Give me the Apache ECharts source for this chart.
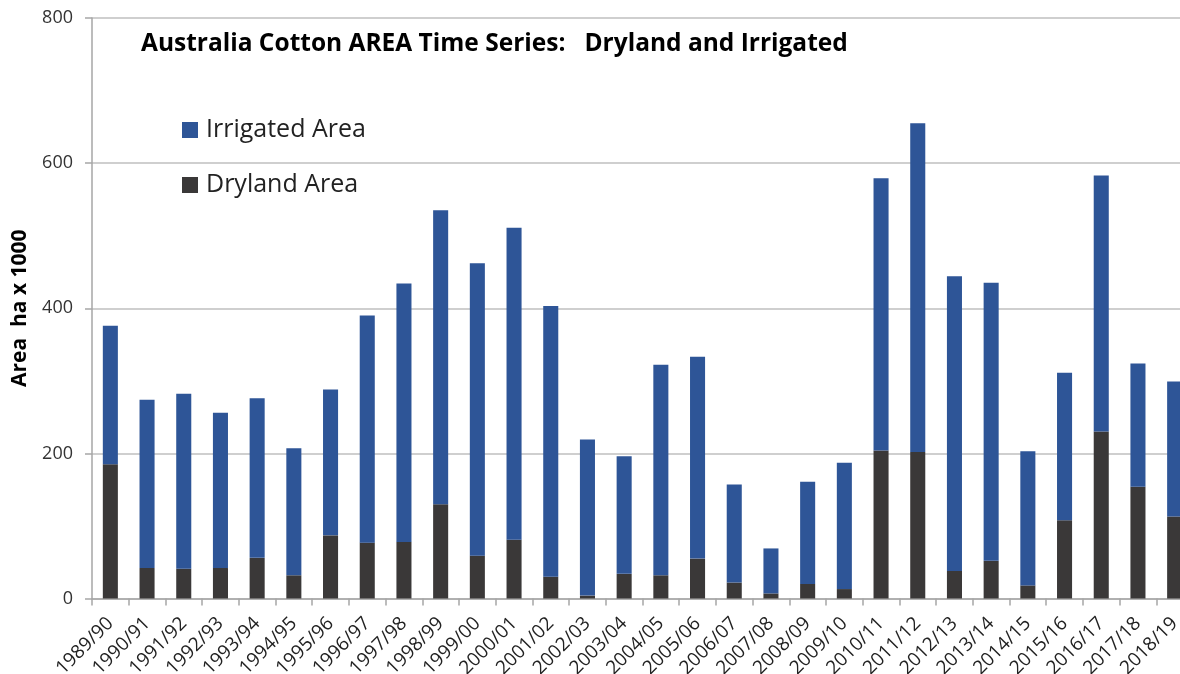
<!DOCTYPE html>
<html><head><meta charset="utf-8">
<script src="https://cdn.jsdelivr.net/npm/echarts@6/dist/echarts.min.js"></script>
<style>html,body{margin:0;padding:0;background:#fff}#c{width:1180px;height:674px}</style>
</head><body><div id="c"></div>
<script>
const categories = ["1989/90","1990/91","1991/92","1992/93","1993/94","1994/95","1995/96","1996/97","1997/98","1998/99","1999/00","2000/01","2001/02","2002/03","2003/04","2004/05","2005/06","2006/07","2007/08","2008/09","2009/10","2010/11","2011/12","2012/13","2013/14","2014/15","2015/16","2016/17","2017/18","2018/19"];
const dryland = [185,42,41,42,56,32,87,77,78,130,59,81,30,4,34,32,55,22,7,20,13,204,202,38,52,18,108,230,154,113];
const irrigated = [191,232,241,214,220,175,201,313,356,405,403,430,373,215,162,290,278,135,62,141,174,375,453,406,383,185,203,353,170,186];
const yTicks = [0,200,400,600,800];

const chart = echarts.init(document.getElementById('c'));
chart.setOption({
  animation:false,
  backgroundColor:'#fff',
  textStyle:{fontFamily:'Open Sans'},
  title:{text:'Australia Cotton AREA Time Series:   Dryland and Irrigated', left:141, top:32, padding:0,
    textStyle:{fontFamily:'Open Sans', fontWeight:'bold', fontSize:24.5, color:'#000'}},
  legend:{orient:'vertical', left:182, top:115, padding:0, itemWidth:16, itemHeight:16, itemGap:25,
    icon:'rect',
    data:['Irrigated Area','Dryland Area'],
    textStyle:{fontFamily:'Open Sans', fontSize:25, lineHeight:30, color:'#222', padding:[0,0,0,3]}},
  grid:{left:92, right:-13, top:18, bottom:75.5, containLabel:false, outerBoundsMode:'none'},
  xAxis:{type:'category', data:categories,
    axisLine:{lineStyle:{color:'#a6a6a6', width:1.5}},
    axisTick:{show:true, length:7, lineStyle:{color:'#a6a6a6', width:1.5}},
    axisLabel:{rotate:45, fontSize:19, color:'#222', margin:22, interval:0}},
  yAxis:{type:'value', min:0, max:800, interval:200,
    name:'Area  ha x 1000', nameLocation:'middle', nameGap:61,
    nameTextStyle:{fontFamily:'Open Sans', fontWeight:'bold', fontSize:21, color:'#000'},
    axisLine:{show:true, lineStyle:{color:'#a6a6a6', width:1.5}},
    axisTick:{show:true, length:7, lineStyle:{color:'#a6a6a6', width:1.5}},
    axisLabel:{fontSize:18, color:'#333', margin:19,
      formatter:v=>yTicks.includes(v)?String(v):''},
    splitLine:{lineStyle:{color:'#bfbfbf', width:1.5}}},
  series:[
    {name:'Dryland Area', type:'bar', stack:'a', data:dryland, barWidth:'41%',
      itemStyle:{color:'#3a3838'}},
    {name:'Irrigated Area', type:'bar', stack:'a', data:irrigated, barWidth:'41%',
      itemStyle:{color:'#2e5597'}}
  ]
});
</script></body></html>
